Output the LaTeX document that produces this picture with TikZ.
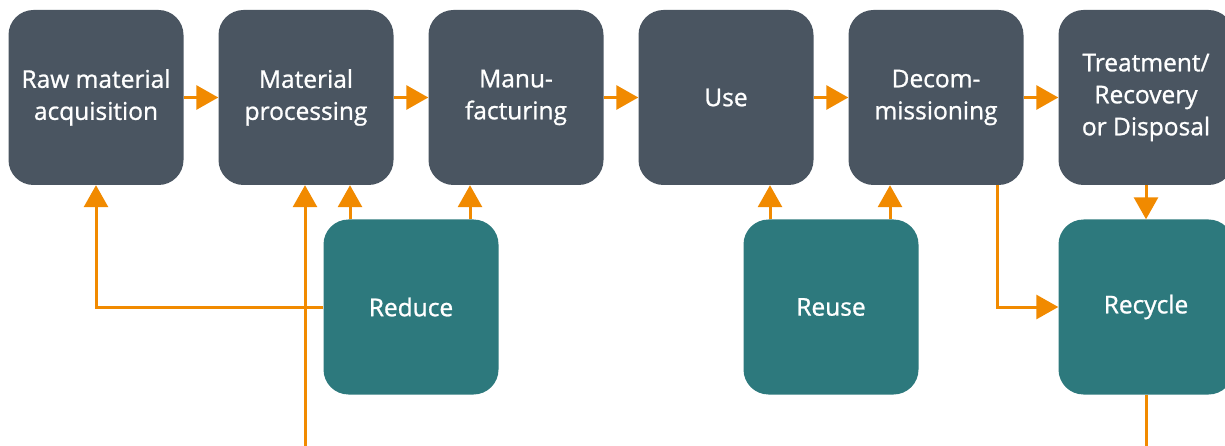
\documentclass[tikz,border=0pt]{standalone}
\usepackage{fontspec}
\setmainfont{Open Sans}[FakeBold=1]
\usetikzlibrary{arrows.meta}
\definecolor{slate}{HTML}{4A5561}
\definecolor{tealbox}{HTML}{2D797D}
\definecolor{orng}{HTML}{F18A00}
\begin{document}
\begin{tikzpicture}[x=1pt,y=-1pt,
  box/.style={rounded corners=25pt, minimum width=175pt, minimum height=175pt, inner sep=0pt, text=white, align=center, font=\fontsize{24.5}{32}\selectfont},
  lc/.style={box, fill=slate},
  rc/.style={box, fill=tealbox},
  conn/.style={draw=orng, line width=3pt},
  arr/.style={conn, -{Triangle[length=22pt,width=24pt]}}]
\useasboundingbox (0,0) rectangle (1225,446);
\clip (0,0) rectangle (1225,446);
\node[lc] (b1) at (96,97.5) {Raw material\\acquisition};
\node[lc] (b2) at (306,97.5) {Material\\processing};
\node[lc] (b3) at (516,97.5) {Manu-\\facturing};
\node[lc] (b4) at (726,97.5) {Use};
\node[lc] (b5) at (936,97.5) {Decom-\\missioning};
\node[lc] (b6) at (1146,97.5) {Treatment/\\Recovery\\or Disposal};
\node[rc] (r1) at (411,307) {Reduce};
\node[rc] (r2) at (831,307) {Reuse};
\node[rc] (r3) at (1146,307) {Recycle};
\coordinate (bot1) at (305,446);
\coordinate (bot2) at (1146,446);
\foreach \a/\b in {b1/b2,b2/b3,b3/b4,b4/b5,b5/b6}
  \draw[arr] (\a.east) -- (\b.west);
\draw[arr] (r1.north -| 350,0) -- (b2.south -| 350,0);
\draw[arr] (r1.north -| 470,0) -- (b3.south -| 470,0);
\draw[arr] (r1.west) -- (r1.west -| b1.south) -- (b1.south);
\draw[arr] (bot1) -- (b2.south -| bot1);
\draw[arr] (r2.north -| 770,0) -- (b4.south -| 770,0);
\draw[arr] (r2.north -| 890,0) -- (b5.south -| 890,0);
\draw[arr] (b5.south -| 997,0) -- (r3.west -| 997,0) -- (r3.west);
\draw[arr] (b6.south) -- (r3.north);
\draw[conn] (r3.south) -- (bot2);
\end{tikzpicture}
\end{document}
